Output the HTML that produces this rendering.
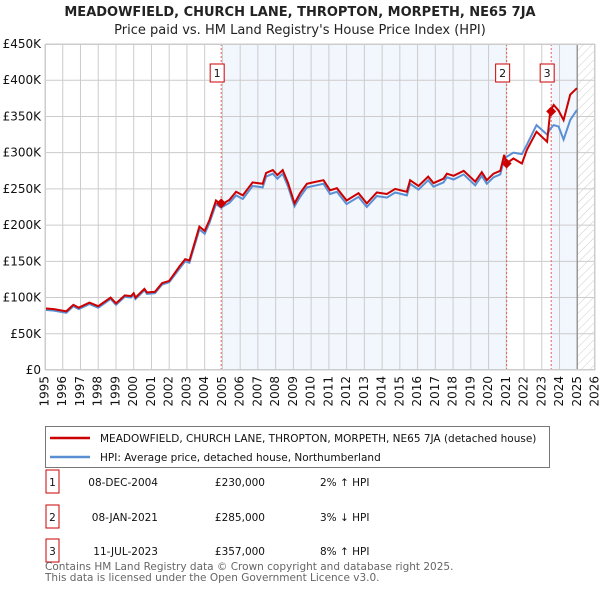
<!DOCTYPE html>
<html><head><meta charset="utf-8"><style>
body{margin:0;background:#fff;font-family:"Liberation Sans","DejaVu Sans",sans-serif}
svg text{font-family:"DejaVu Sans","Liberation Sans",sans-serif}
</style></head><body>
<svg id="chart" width="600" height="590" xmlns="http://www.w3.org/2000/svg">
<defs><pattern id="hatch" width="6" height="6" patternUnits="userSpaceOnUse" patternTransform="rotate(45)"><line x1="0" y1="0" x2="0" y2="6" stroke="#ccc" stroke-width="1"/></pattern></defs>
<text x="300" y="16" text-anchor="middle" font-size="13" font-weight="bold" fill="#222">MEADOWFIELD, CHURCH LANE, THROPTON, MORPETH, NE65 7JA</text>
<text x="300" y="34" text-anchor="middle" font-size="13" fill="#222">Price paid vs. HM Land Registry's House Price Index (HPI)</text>
<g id="plot"></g>
<rect x="45.5" y="426.5" width="504" height="41" fill="#fff" stroke="#777"/>
<line x1="50" y1="438" x2="90" y2="438" stroke="#cc0000" stroke-width="2.5"/>
<text x="100" y="442" font-size="10.5" fill="#111">MEADOWFIELD, CHURCH LANE, THROPTON, MORPETH, NE65 7JA (detached house)</text>
<line x1="50" y1="457" x2="90" y2="457" stroke="#5b8fd4" stroke-width="2.5"/>
<text x="100" y="461" font-size="10.5" fill="#111">HPI: Average price, detached house, Northumberland</text>
<g id="table" font-size="10.5" fill="#111"></g>
<text x="45" y="570" font-size="10.5" fill="#666">Contains HM Land Registry data © Crown copyright and database right 2025.</text>
<text x="45" y="581" font-size="10.5" fill="#666">This data is licensed under the Open Government Licence v3.0.</text>
</svg>
<script>
const years=[1995,1995.5,1996.2,1996.6,1996.9,1997.5,1998,1998.7,1999,1999.5,1999.85,2000,2000.1,2000.6,2000.75,2001.2,2001.6,2002,2002.58,2002.9,2003.14,2003.7,2004,2004.27,2004.64,2004.92,2005.4,2005.77,2006.15,2006.7,2007.27,2007.46,2007.84,2008.1,2008.4,2008.7,2009.06,2009.38,2009.76,2010.3,2010.7,2011.07,2011.45,2012,2012.67,2013.14,2013.7,2014.27,2014.74,2015.4,2015.58,2016.05,2016.6,2016.9,2017.46,2017.65,2018.03,2018.6,2019.25,2019.62,2019.9,2020.28,2020.66,2020.88,2021.0,2021.4,2021.88,2022.16,2022.7,2023.3,2023.48,2023.67,2023.95,2024.23,2024.6,2024.98];
const priceK=[85,84,81,90,86,93,88,100,92,103,102,106,100,112,107,108,120,123,143,153,151,198,192,207,234,228,235,246,241,259,257,272,276,269,276,258,230,244,257,260,262,248,251,234,244,230,245,243,250,246,262,254,267,258,264,271,268,275,260,273,262,271,275,297,285,292,285,304,329,315,358,366,358,345,380,389];
const hpiK=[83,82,79,88,84,91,86,98,90,101,100,104,98,110,105,106,118,121,140,150,148,194,188,203,229,224,231,241,236,254,252,267,271,264,271,253,226,239,252,255,257,243,246,229,239,225,240,238,245,241,257,249,262,253,259,266,263,270,255,268,257,266,270,292,294,300,298,311,338,325,333,338,336,318,345,359];
const yTicks=[0,50,100,150,200,250,300,350,400,450];
const yTickLabels=["£0","£50K","£100K","£150K","£200K","£250K","£300K","£350K","£400K","£450K"];
const xTicks=[1995,1996,1997,1998,1999,2000,2001,2002,2003,2004,2005,2006,2007,2008,2009,2010,2011,2012,2013,2014,2015,2016,2017,2018,2019,2020,2021,2022,2023,2024,2025,2026];
const saleYears=[2004.93,2021.02,2023.53];
const salePricesK=[230,285,357];
const saleLabels=["1","2","3"];
const saleDates=["08-DEC-2004","08-JAN-2021","11-JUL-2023"];
const salePriceText=["£230,000","£285,000","£357,000"];
const saleHpiText=["2% ↑ HPI","3% ↓ HPI","8% ↑ HPI"];
const dataEnd=2025.0;

const X0=45,X1=595,Y0=370,Y1=44;
const xs=y=>X0+(y-1995)/(2026-1995)*(X1-X0);
const ys=v=>Y0-v/450*(Y0-Y1);
const NS="http://www.w3.org/2000/svg";
const plot=document.getElementById('plot');
function mk(tag,attrs,parent){const e=document.createElementNS(NS,tag);for(const k in attrs)e.setAttribute(k,attrs[k]);(parent||plot).appendChild(e);return e;}

let r=mk('rect',{x:xs(saleYears[0]),y:Y1,width:xs(saleYears[1])-xs(saleYears[0]),height:Y0-Y1,fill:'#f2f6fd'});


r=mk('rect',{x:xs(saleYears[2]),y:Y1,width:xs(dataEnd)-xs(saleYears[2]),height:Y0-Y1,fill:'#f2f6fd'});


r=mk('rect',{x:xs(dataEnd),y:Y1,width:X1-xs(dataEnd),height:Y0-Y1,fill:'url(#hatch)'});



xTicks.forEach(t=>{
  const l=mk('line',{x1:xs(t),x2:xs(t),y1:Y1,y2:Y0,stroke:'#ccc','stroke-width':1});
  
  
  const tx=mk('text',{x:xs(t),y:Y0+6,'font-size':12,fill:'#111','text-anchor':'end','dominant-baseline':'middle',transform:`rotate(-90 ${xs(t)} ${Y0+6})`});
  
  
  tx.textContent=t;
});
yTicks.forEach((t,i)=>{
  const l=mk('line',{x1:X0,x2:X1,y1:ys(t),y2:ys(t),stroke:'#ccc','stroke-width':1});
  
  
  const tx=mk('text',{x:X0-4,y:ys(t)+4,'font-size':12,fill:'#111','text-anchor':'end'});
  
  
  tx.textContent=yTickLabels[i];
});
let el=mk('line',{x1:xs(dataEnd),x2:xs(dataEnd),y1:Y1,y2:Y0,stroke:'#999','stroke-width':1.5});



saleYears.forEach((s,i)=>{
  const l=mk('line',{x1:xs(s),x2:xs(s),y1:Y1,y2:Y0,stroke:'#e06060','stroke-width':1,'stroke-dasharray':'2,2'});
  
  
});

const pts=a=>a.map((v,i)=>xs(years[i]).toFixed(1)+','+ys(v).toFixed(1)).join(' ');
el=mk('polyline',{points:pts(hpiK),fill:'none',stroke:'#5b8fd4','stroke-width':2});


el=mk('polyline',{points:pts(priceK),fill:'none',stroke:'#cc0000','stroke-width':2});



saleYears.forEach((s,i)=>{
  const cx=xs(s),cy=ys(salePricesK[i]);
  const d=mk('path',{d:`M${cx} ${cy-5}L${cx+5} ${cy}L${cx} ${cy+5}L${cx-5} ${cy}Z`,fill:'#cc0000'});
  
  
  const b=mk('rect',{x:cx-11,y:64,width:14,height:18,fill:'#fff',stroke:'#cc0000','stroke-width':1});
  
  
  const t=mk('text',{x:cx-4,y:77,'font-size':11,'text-anchor':'middle',fill:'#111'});
  
  
  t.textContent=saleLabels[i];
});
el=mk('rect',{x:X0+0.5,y:Y1+0.5,width:X1-X0-1,height:Y0-Y1-1,fill:'none',stroke:'#ccc'});



const table=document.getElementById('table');
const rowsY=[482,517,551];
saleLabels.forEach((lab,i)=>{
  const y=rowsY[i];
  let e=mk('rect',{x:46,y:y-12,width:13,height:23,fill:'none',stroke:'#cc0000','stroke-width':1},table);
  
  
  e=mk('text',{x:52.5,y:y+4,'text-anchor':'middle'},table);
  
  
  e.textContent=lab;
  e=mk('text',{x:158,y:y+4,'text-anchor':'end'},table);
  
  
  e.textContent=saleDates[i];
  e=mk('text',{x:265,y:y+4,'text-anchor':'end'},table);
  
  
  e.textContent=salePriceText[i];
  e=mk('text',{x:320,y:y+4},table);
  
  
  e.textContent=saleHpiText[i];
});
</script>
</body></html>
